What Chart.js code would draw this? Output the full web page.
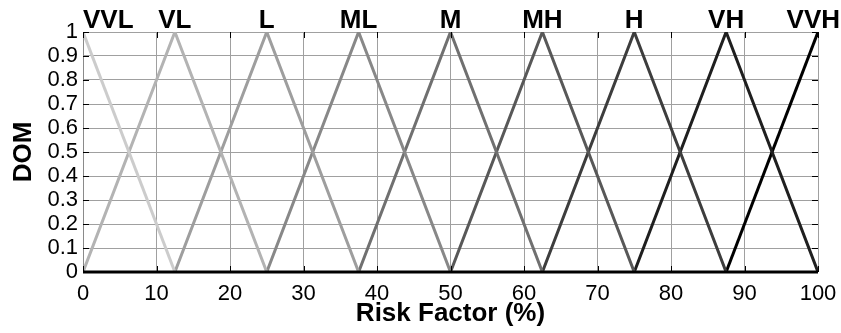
<!DOCTYPE html>
<html>
<head>
<meta charset="utf-8">
<script src="https://cdn.jsdelivr.net/npm/chart.js@4/dist/chart.umd.min.js"></script>
<style>
  html, body { margin: 0; padding: 0; background: #fff; }
  #wrap { width: 841px; height: 333px; }
</style>
</head>
<body>
<div id="wrap"><canvas id="mf"></canvas></div>
<script>
// membership function labels and their triangle corners
const setNames = ['VVL', 'VL', 'L', 'ML', 'M', 'MH', 'H', 'VH', 'VVH'];
const peakX = [0, 12.5, 25, 37.5, 50, 62.5, 75, 87.5, 100];
const setX = [
  [0, 12.5],
  [0, 12.5, 25],
  [12.5, 25, 37.5],
  [25, 37.5, 50],
  [37.5, 50, 62.5],
  [50, 62.5, 75],
  [62.5, 75, 87.5],
  [75, 87.5, 100],
  [87.5, 100]
];
const setY = [
  [1, 0],
  [0, 1, 0],
  [0, 1, 0],
  [0, 1, 0],
  [0, 1, 0],
  [0, 1, 0],
  [0, 1, 0],
  [0, 1, 0],
  [0, 1]
];
const xTicks = [0, 10, 20, 30, 40, 50, 60, 70, 80, 90, 100];
const yTicks = [0, 0.1, 0.2, 0.3, 0.4, 0.5, 0.6, 0.7, 0.8, 0.9, 1];

const grays = ['#cccccc', '#b3b3b3', '#9e9e9e', '#888888', '#707070', '#585858', '#3d3d3d', '#1f1f1f', '#000000'];
const tickFont = { family: 'Liberation Sans, Arial', size: 22 };
const boldFont = { family: 'Liberation Sans, Arial', size: 26, weight: 'bold' };

let datasets = setNames.map((name, i) => ({
  label: name,
  data: setX[i].map((x, j) => ({ x: x, y: setY[i][j] })),
  borderColor: grays[i],
  borderWidth: 3,
  pointRadius: 0,
  tension: 0,
  fill: false
}));

// small black ticks pointing into the plot, like the original figure
const innerTicks = {
  id: 'innerTicks',
  afterDatasetsDraw(chart) {
    let c = chart.ctx, a = chart.chartArea;
    let xs = chart.scales.x, ys = chart.scales.y;
    c.save();
    c.strokeStyle = '#000';
    c.lineWidth = 1;
    c.beginPath();
    xTicks.forEach(v => {
      let p = Math.round(xs.getPixelForValue(v)) + 0.5;
      c.moveTo(p, a.bottom); c.lineTo(p, a.bottom - 6);
      c.moveTo(p, a.top); c.lineTo(p, a.top + 6);
    });
    yTicks.forEach(v => {
      let p = Math.round(ys.getPixelForValue(v)) + 0.5;
      c.moveTo(a.left, p); c.lineTo(a.left + 6, p);
      c.moveTo(a.right, p); c.lineTo(a.right - 6, p);
    });
    c.stroke();
    // thick bottom axis
    c.lineWidth = 3;
    c.beginPath();
    c.moveTo(a.left, a.bottom); c.lineTo(a.right, a.bottom);
    c.stroke();
    c.restore();
  }
};

// set names written above each peak
const peakLabels = {
  id: 'peakLabels',
  afterDraw(chart) {
    let c = chart.ctx, a = chart.chartArea;
    let xs = chart.scales.x;
    c.save();
    c.font = 'bold 26px Liberation Sans, Arial';
    c.fillStyle = '#000';
    c.textBaseline = 'alphabetic';
    c.textAlign = 'center';
    setNames.forEach((name, i) => {
      let w = c.measureText(name).width;
      let cx = xs.getPixelForValue(peakX[i]);
      cx = Math.max(cx, a.left + w / 2);
      cx = Math.min(cx, chart.width - w / 2 - 1);
      c.fillText(name, cx, a.top - 4);
    });
    c.restore();
  }
};

new Chart(document.getElementById('mf').getContext('2d'), {
  type: 'line',
  data: { datasets: datasets },
  plugins: [innerTicks, peakLabels],
  options: {
    responsive: true,
    maintainAspectRatio: false,
    animation: false,
    layout: { padding: { top: 32, right: 23, left: 0, bottom: 0 } },
    plugins: {
      legend: { display: false },
      tooltip: { enabled: false }
    },
    scales: {
      x: {
        type: 'linear',
        min: 0,
        max: 100,
        afterBuildTicks: (s) => { s.ticks = xTicks.map(v => ({ value: v })); },
        afterFit: (s) => { s.height = 61; },
        grid: { color: '#a0a0a0', lineWidth: 1, drawTicks: true, tickLength: 6, tickColor: 'rgba(0,0,0,0)' },
        border: { display: false },
        ticks: { color: '#000', font: tickFont, padding: 3, maxRotation: 0, autoSkip: false },
        title: {
          display: true,
          text: 'Risk Factor (%)',
          color: '#000',
          font: boldFont,
          padding: { top: 0, bottom: 4 }
        }
      },
      y: {
        min: 0,
        max: 1,
        afterBuildTicks: (s) => { s.ticks = yTicks.map(v => ({ value: v })); },
        afterFit: (s) => { s.width = 83; },
        grid: { color: '#a0a0a0', lineWidth: 1, drawTicks: false },
        border: { display: true, color: '#8a8a8a' },
        ticks: {
          color: '#000',
          font: tickFont,
          padding: 5,
          autoSkip: false,
          callback: (v) => String(Math.round(v * 10) / 10)
        },
        title: {
          display: true,
          text: 'DOM',
          color: '#000',
          font: boldFont,
          padding: { top: 8, bottom: 0 }
        }
      }
    }
  }
});
</script>
</body>
</html>
